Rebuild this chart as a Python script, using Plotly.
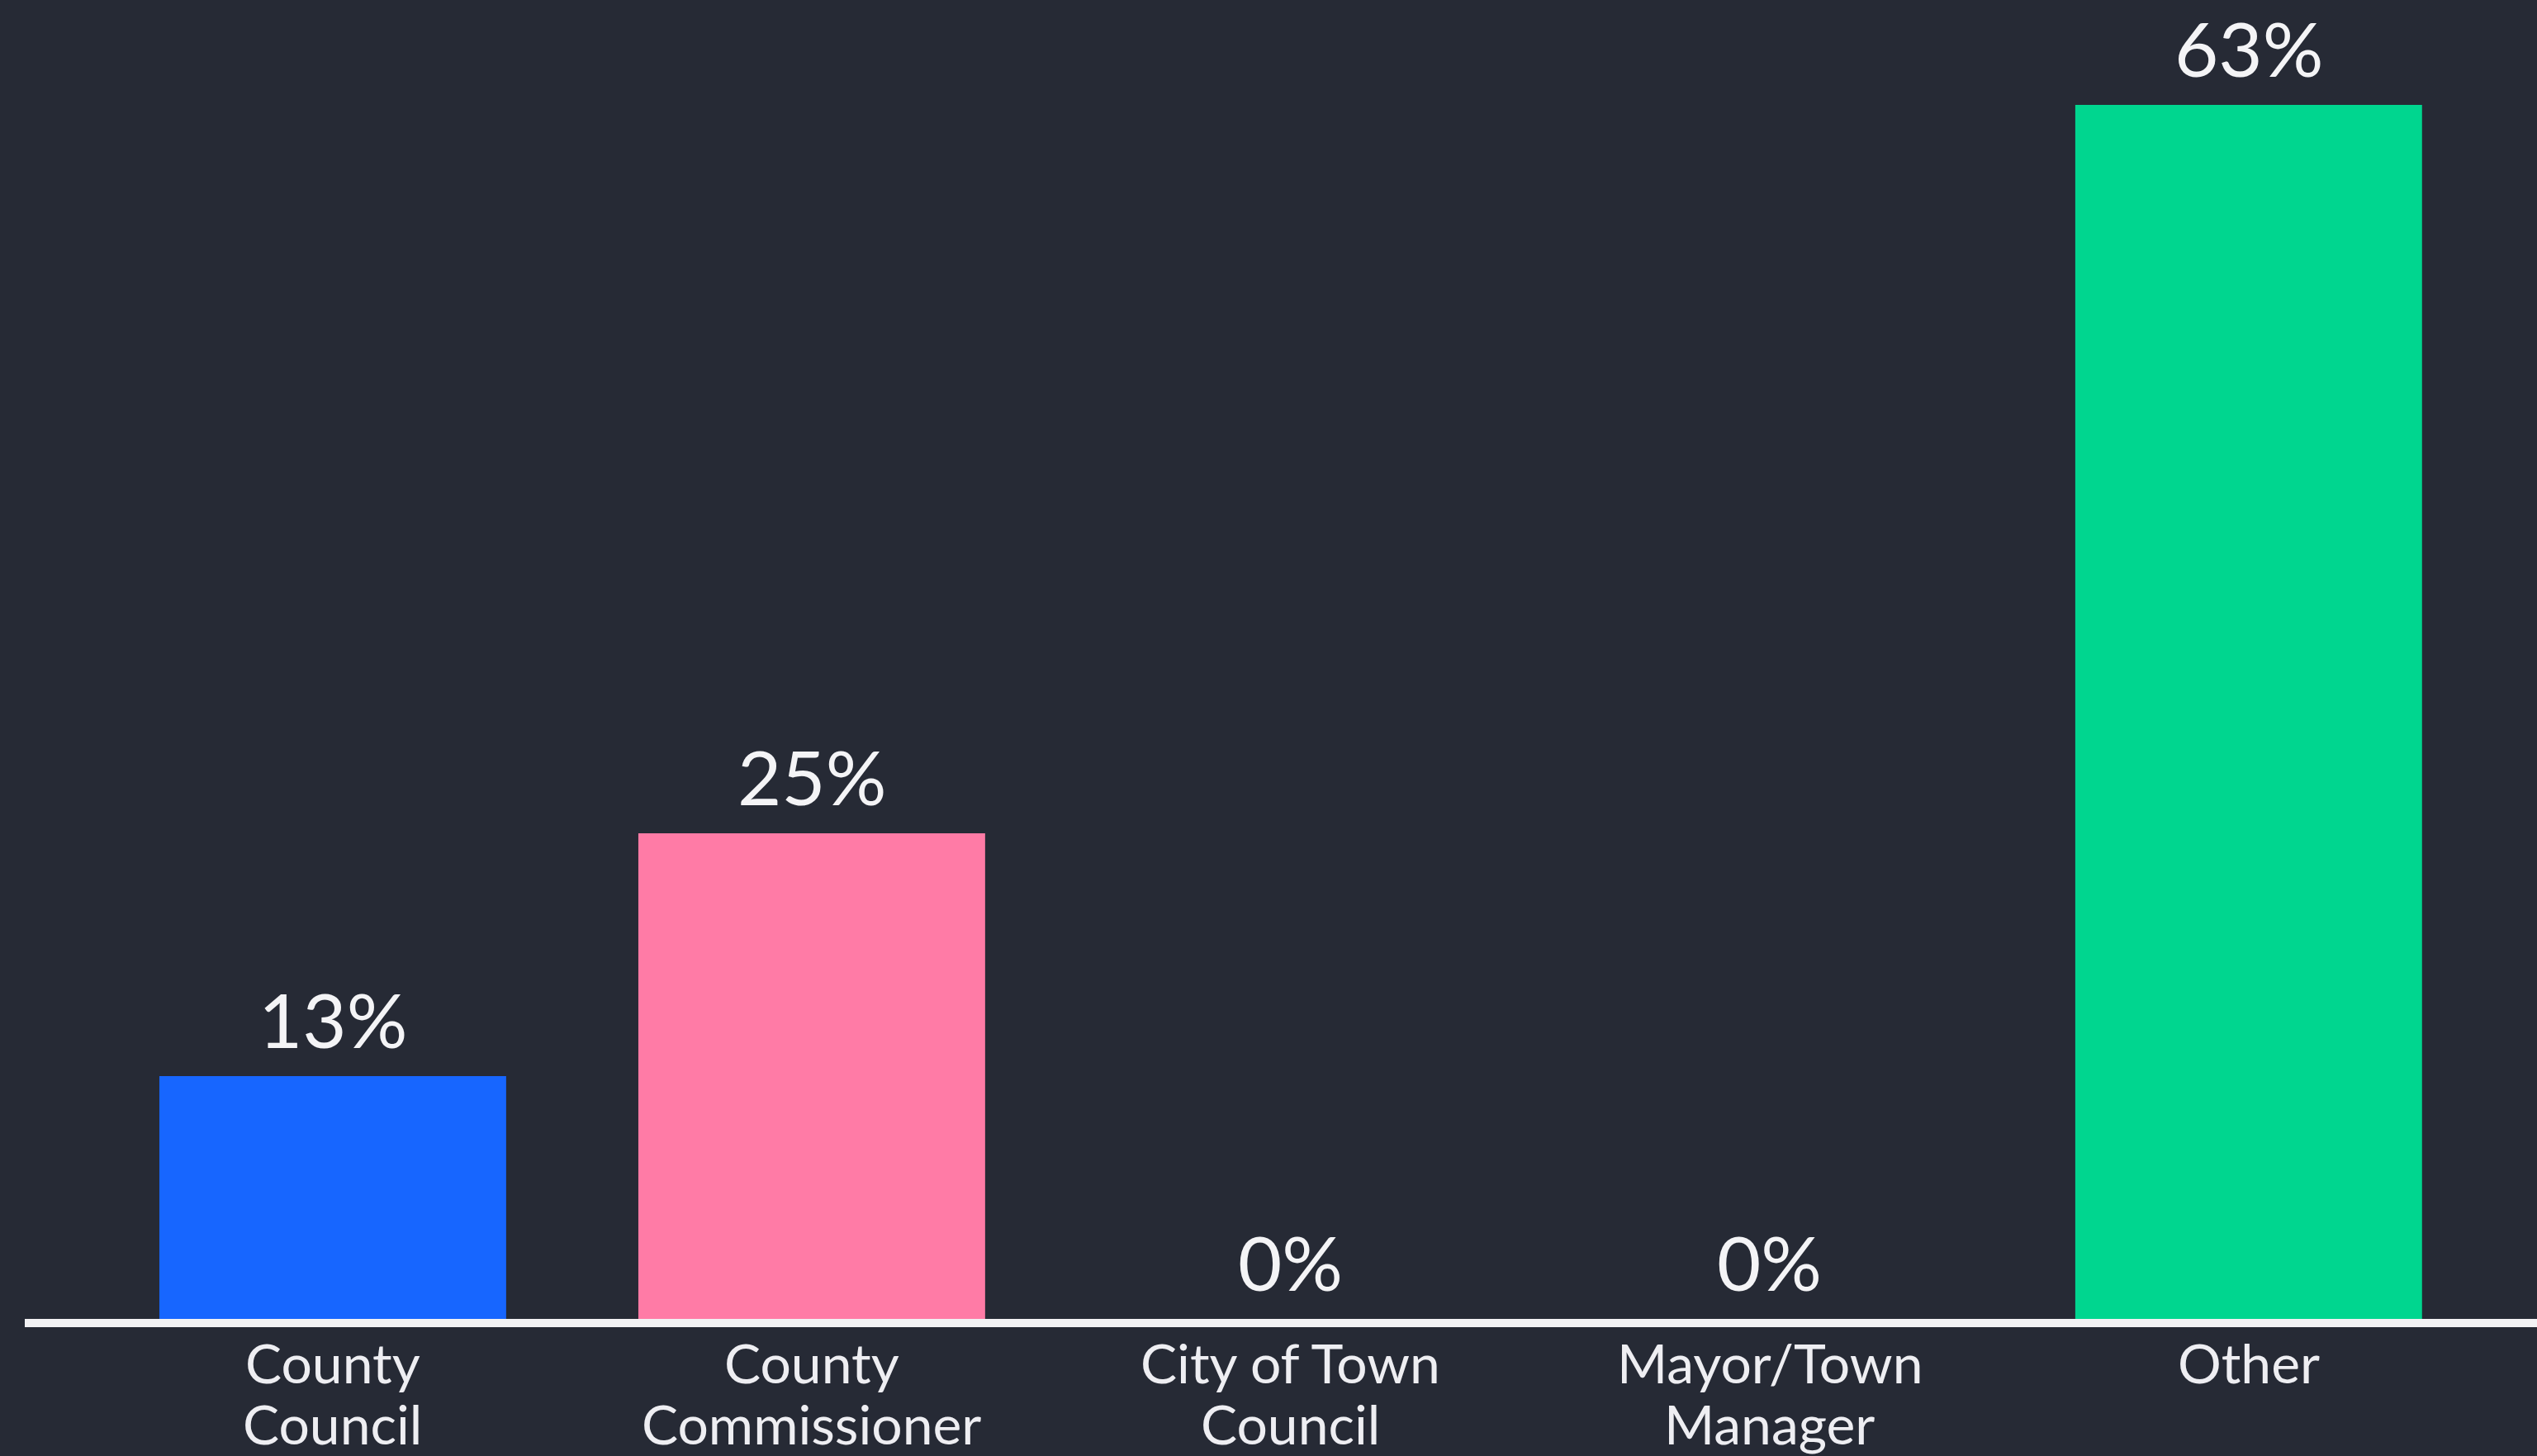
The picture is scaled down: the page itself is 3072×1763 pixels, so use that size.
import plotly.graph_objects as go

categories = ["County<br>Council", "County<br>Commissioner", "City of Town<br>Council",
              "Mayor/Town<br>Manager", "Other"]
values = [12.5, 25, 0, 0, 62.5]
value_labels = ["13%", "25%", "0%", "0%", "63%"]
bar_colors = ["#1766ff", "#ff7ba6", "#1766ff", "#ff7ba6", "#00d68f"]

BG = "#262a35"
FONT = "Lato"

x_idx = list(range(len(categories)))

fig = go.Figure()
fig.add_trace(go.Bar(
    x=x_idx, y=values,
    marker=dict(color=bar_colors, line=dict(width=0)),
    hoverinfo="skip",
))

annotations = []
for i, (v, lab) in enumerate(zip(values, value_labels)):
    annotations.append(dict(
        x=i, xref="x", y=v, yref="y",
        text=lab, showarrow=False,
        xanchor="center", yanchor="bottom", yshift=12,
        font=dict(family=FONT, size=92, color="#f4f4f6"),
    ))
for i, cat in enumerate(categories):
    lines = cat.split("<br>")
    for j, line in enumerate(lines):
        annotations.append(dict(
            x=i, xref="x", y=0, yref="paper",
            text=line, showarrow=False,
            xanchor="center", yanchor="middle",
            yshift=-52 - 74 * j,
            font=dict(family=FONT, size=66, color="#eeeef2"),
        ))

fig.update_layout(
    width=3072, height=1763,
    paper_bgcolor=BG, plot_bgcolor=BG,
    margin=dict(l=30, r=0, t=0, b=166),
    bargap=0.276,
    showlegend=False,
    xaxis=dict(range=[-0.643, 4.602], showticklabels=False, showgrid=False,
               zeroline=False, ticks="", showline=True, linecolor="#f2f2f4",
               linewidth=10, fixedrange=True),
    yaxis=dict(range=[0, 67.9], visible=False, showgrid=False, zeroline=False),
    annotations=annotations,
)

fig.write_html("out.html", config={"displayModeBar": False},
               post_script="document.body.style.margin='0';document.body.style.background='#262a35';")
